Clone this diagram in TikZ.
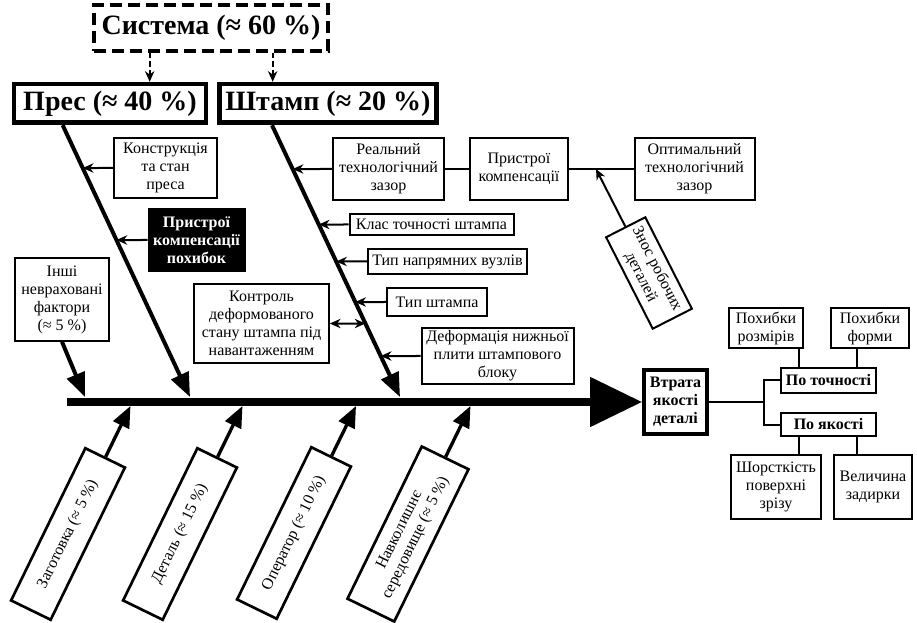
\documentclass[tikz,border=0pt]{standalone}
\usepackage{fontspec}
\setmainfont{Liberation Serif}
\usetikzlibrary{arrows.meta, calc}
\tikzset{
    my-box/.style={
        draw, line width=1.5pt, align=center, inner sep=1pt, font=\fontsize{12}{13.5}\selectfont
    },
    my-bold-box/.style={
        my-box, font=\fontsize{12}{13.5}\selectfont\bfseries
    },
    my-dark-box/.style={
        my-bold-box, fill=black, text=white
    },
    my-title/.style={
        draw, line width=3.5pt, inner sep=2pt, font=\fontsize{21}{24}\selectfont\bfseries
    },
    my-line/.style={
        line width=1.5pt
    },
    my-arrow/.style={
        line width=1.5pt, -{Stealth[length=8pt, width=7pt]}
    },
    my-double-arrow/.style={
        line width=1.5pt, {Stealth[length=8pt, width=7pt]}-{Stealth[length=8pt, width=7pt]}
    },
    my-dash-arrow/.style={
        line width=1.5pt, dash pattern=on 4pt off 2.5pt, -{Stealth[length=8pt, width=7pt]}
    },
    my-bone/.style={
        line width=3pt, -{Triangle[length=18pt, width=14pt]}
    },
    my-foot/.style={
        line width=2.5pt, shorten >=3.3pt, -{Triangle[length=16pt, width=13pt]}
    },
    my-spine/.style={
        line width=6pt, -{Triangle[length=39pt, width=36pt]}
    },
}

\begin{document}
\begin{tikzpicture}[x=0.75pt, y=-0.75pt]
        \useasboundingbox (0,0) rectangle (917,623);

        % HEADS ---------------------------------------------------------------------------------------
        \node[my-title, line width=3pt, dash pattern=on 9.5pt off 4pt, minimum width=176pt, minimum height=34pt] (SYSTEM) at (211,28)    {Система (≈ 60 \%)};
        \node[my-title, minimum width=144pt, minimum height=29pt]                                          (PRES)   at (110,103.5) {Прес (≈ 40 \%)};
        \node[my-title, minimum width=163pt, minimum height=29pt]                                          (SHTAMP) at (328,103.5) {Штамп (≈ 20 \%)};

        % DASHED LINKS FROM SYSTEM
        \coordinate (SYS1) at ($(SYSTEM.south west) + (58, 0)$);
        \coordinate (SYS2) at ($(SYSTEM.south west) + (181, 0)$);
        \draw[my-dash-arrow] (SYS1) -- (SYS1 |- PRES.north);
        \draw[my-dash-arrow] (SYS2) -- (SYS2 |- SHTAMP.north);

        % SPINE AND RESULT ----------------------------------------------------------------------------
        \coordinate (SPINESTART) at (67, 402);
        \node[my-bold-box, line width=3pt, minimum width=47pt, minimum height=48pt] (VTRATA) at (675.5, 402) {Втрата\\якості\\деталі};

        % BONES
        \coordinate (PRESTOP)  at ($(PRES.south west)   + (51, 0)$);
        \coordinate (PRESEND)  at ($(SPINESTART)        + (123, -5)$);
        \coordinate (STAMPTOP) at ($(SHTAMP.south west) + (55, 0)$);
        \coordinate (STAMPEND) at ($(SPINESTART)        + (333, -5)$);
        \draw[my-bone] (PRESTOP)  -- (PRESEND);
        \draw[my-bone] (STAMPTOP) -- (STAMPEND);

        % PRESS CAUSES --------------------------------------------------------------------------------
        \node[my-box, minimum width=77pt, minimum height=45pt]  (KONSTR)  at (165.5, 168) {Конструкція\\та стан\\преса};
        \node[my-dark-box, minimum width=72pt, minimum height=46pt] (PRISTR1) at (196.5, 240) {Пристрої\\компенсації\\похибок};
        \draw[my-arrow] (KONSTR.west)  -- (intersection of PRESTOP--PRESEND and KONSTR.west--KONSTR.east);
        \draw[my-arrow] (PRISTR1.west) -- (intersection of PRESTOP--PRESEND and PRISTR1.west--PRISTR1.east);

        % OTHER FACTORS
        \node[my-box, minimum width=70pt, minimum height=62pt] (INSHI) at (62, 299.5) {Інші\\невраховані\\фактори\\(≈ 5 \%)};
        \draw[my-bone] (INSHI.south) -- ($(SPINESTART) + (18, -5)$);

        % DIE CAUSES ----------------------------------------------------------------------------------
        \node[my-box, minimum width=83pt, minimum height=46pt]  (REAL)    at (388.5, 169) {Реальний\\технологічний\\зазор};
        \node[my-box, minimum width=73pt, minimum height=46pt]  (PRISTR2) at (519, 169)   {Пристрої\\компенсації};
        \node[my-box, minimum width=90pt, minimum height=46pt]  (OPTIM)   at (694.5, 169) {Оптимальний\\технологічний\\зазор};
        \node[my-box, minimum width=123pt, minimum height=16pt] (KLAS)    at (431.5, 224.5) {Клас точності штампа};
        \node[my-box, minimum width=119pt, minimum height=19pt] (TYPNAP)  at (447.5, 261.5) {Тип напрямних вузлів};
        \node[my-box, minimum width=75pt, minimum height=21pt]  (TYPSHT)  at (437, 302)   {Тип штампа};
        \node[my-box, minimum width=114pt, minimum height=42pt] (DEFORM)  at (497.5, 356) {Деформація нижньої\\плити штампового\\блоку};
        \node[my-box, minimum width=101pt, minimum height=59pt] (KONTROL) at (261.5, 323.5) {Контроль\\деформованого\\стану штампа під\\навантаженням};
        \node[my-box, rotate=-63, minimum width=77pt, minimum height=33pt] (ZNOS) at (649, 273) {Знос робочих\\деталей};

        \draw[my-arrow]        (REAL.west)    -- (intersection of STAMPTOP--STAMPEND and REAL.west--REAL.east);
        \draw[my-line]         (REAL.east)    -- (PRISTR2.west);
        \draw[my-line]         (PRISTR2.east) -- (OPTIM.west);
        \draw[my-arrow]        (ZNOS.west)    -- (intersection of PRISTR2.east--OPTIM.west and ZNOS.west--ZNOS.east);
        \draw[my-arrow]        (KLAS.west)    -- (intersection of STAMPTOP--STAMPEND and KLAS.west--KLAS.east);
        \draw[my-arrow]        (TYPNAP.west)  -- (intersection of STAMPTOP--STAMPEND and TYPNAP.west--TYPNAP.east);
        \draw[my-arrow]        (TYPSHT.west)  -- (intersection of STAMPTOP--STAMPEND and TYPSHT.west--TYPSHT.east);
        \draw[my-arrow]        (DEFORM.west)  -- (intersection of STAMPTOP--STAMPEND and DEFORM.west--DEFORM.east);
        \draw[my-double-arrow] (KONTROL.east) -- (intersection of STAMPTOP--STAMPEND and KONTROL.west--KONTROL.east);

        % LOWER CAUSES --------------------------------------------------------------------------------
        \node[my-box, line width=2pt, rotate=64, minimum width=127pt, minimum height=33pt] (ZAG)  at (68, 534)  {Заготовка (≈ 5 \%)};
        \node[my-box, line width=2pt, rotate=64, minimum width=127pt, minimum height=33pt] (DET)  at (180, 534) {Деталь (≈ 15 \%)};
        \node[my-box, line width=2pt, rotate=64, minimum width=127pt, minimum height=33pt] (OPER) at (294, 533) {Оператор (≈ 10 \%)};
        \node[my-box, line width=2pt, rotate=64, minimum width=127pt, minimum height=39pt] (NAVK) at (408, 534) {Навколишнє\\середовище (≈ 5 \%)};
        \draw[my-foot] (ZAG.east)  -- (intersection of SPINESTART--VTRATA.west and ZAG.west--ZAG.east);
        \draw[my-foot] (DET.east)  -- (intersection of SPINESTART--VTRATA.west and DET.west--DET.east);
        \draw[my-foot] (OPER.east) -- (intersection of SPINESTART--VTRATA.west and OPER.west--OPER.east);
        \draw[my-foot] (NAVK.east) -- (intersection of SPINESTART--VTRATA.west and NAVK.west--NAVK.east);

        % SPINE
        \draw[my-spine] (SPINESTART) -- (VTRATA.west);

        % QUALITY LOSS TREE ---------------------------------------------------------------------------
        \node[my-bold-box, minimum width=71pt, minimum height=18pt] (POTOCH) at (828.5, 380.5) {По точності};
        \node[my-bold-box, minimum width=71pt, minimum height=17pt] (POYAK)  at (828.5, 424.5) {По якості};
        \node[my-box, minimum width=55pt, minimum height=30pt]      (ROZM)   at (766, 328.5)   {Похибки\\розмірів};
        \node[my-box, minimum width=58pt, minimum height=30pt]      (FORMA)  at (870, 328.5)   {Похибки\\форми};
        \node[my-box, minimum width=67pt, minimum height=48pt]      (SHORST) at (776, 486.5)   {Шорсткість\\поверхні\\зрізу};
        \node[my-box, minimum width=58pt, minimum height=48pt]      (ZADYR)  at (873, 486.5)   {Величина\\задирки};

        % FORK AND BRANCH WIRES
        \coordinate (FORK) at ($(VTRATA.east) + (55, 0)$);
        \draw[my-line] (VTRATA.east) -- (FORK);
        \draw[my-line] (POTOCH.west) -| (FORK) |- (POYAK.west);

        \coordinate (TOCH1) at ($(POTOCH.north west) + (19, 0)$);
        \coordinate (TOCH2) at ($(POTOCH.north east) + (-20, 0)$);
        \coordinate (YAK1)  at ($(POYAK.south west)  + (19, 0)$);
        \coordinate (YAK2)  at ($(POYAK.south east)  + (-20, 0)$);
        \draw[my-line] (TOCH1) -- (TOCH1 |- ROZM.south);
        \draw[my-line] (TOCH2) -- (TOCH2 |- FORMA.south);
        \draw[my-line] (YAK1)  -- (YAK1 |- SHORST.north);
        \draw[my-line] (YAK2)  -- (YAK2 |- ZADYR.north);

\end{tikzpicture}
\end{document}
